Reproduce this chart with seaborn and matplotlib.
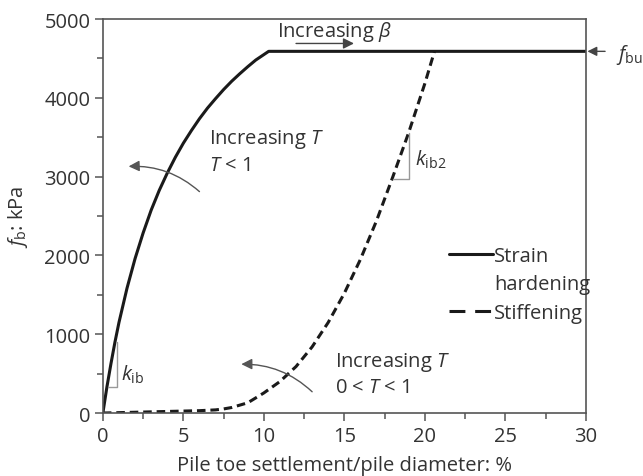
import numpy as np
import pandas as pd
import matplotlib
matplotlib.use('Agg')
import matplotlib.pyplot as plt
import seaborn as sns
from matplotlib.lines import Line2D
from matplotlib.ticker import MultipleLocator

# ---- data ----
hard_x = [0, 0.25, 0.5, 0.75, 1, 1.5, 2, 2.5, 3, 3.5, 4, 4.5, 5, 5.5, 6, 6.5, 7, 7.5, 8, 8.5, 9, 9.5, 10.3, 30]
hard_y = [0, 330, 625, 900, 1150, 1585, 1960, 2285, 2575, 2825, 3045, 3245, 3425, 3585, 3735, 3870, 3990,
          4105, 4210, 4305, 4395, 4480, 4590, 4590]
stiff_x = [0, 1, 2, 3, 4, 5, 6, 7, 7.5, 8, 9, 10, 11, 12, 13, 14, 15, 16, 17, 18, 19, 20, 20.6]
stiff_y = [0, 5, 10, 15, 20, 25, 30, 40, 52, 70, 130, 255, 400, 590, 840, 1150, 1520, 1950, 2440, 2990,
           3560, 4180, 4590]
x_ticks = [0, 5, 10, 15, 20, 25, 30]
y_ticks = [0, 1000, 2000, 3000, 4000, 5000]
series_labels = ["Strain", "hardening", "Stiffening"]

sns.set_theme(style="ticks")
plt.rcParams['font.family'] = ['Open Sans', 'DejaVu Sans']
plt.rcParams['mathtext.fontset'] = 'custom'
plt.rcParams['mathtext.rm'] = 'Open Sans'
plt.rcParams['mathtext.it'] = 'Open Sans:italic'
plt.rcParams['mathtext.bf'] = 'Open Sans:bold'

TXT = '#333333'
AX = '#555555'
FS = 14.5

fig = plt.figure(figsize=(6.43, 4.77), dpi=100)
ax = fig.add_axes([0.160, 0.132, 0.751, 0.826])

df_h = pd.DataFrame({'x': hard_x, 'y': hard_y})
df_s = pd.DataFrame({'x': stiff_x, 'y': stiff_y})
sns.lineplot(data=df_h, x='x', y='y', ax=ax, color='#1a1a1a', lw=2.2, estimator=None)
sns.lineplot(data=df_s, x='x', y='y', ax=ax, color='#1a1a1a', lw=2.2, estimator=None,
             linestyle=(0, (2.8, 1.6)))

ax.set_xlim(0, 30)
ax.set_ylim(0, 5000)
ax.set_xticks(x_ticks)
ax.set_yticks(y_ticks)
ax.xaxis.set_minor_locator(MultipleLocator(2.5))
ax.yaxis.set_minor_locator(MultipleLocator(500))
ax.tick_params(which='major', direction='out', length=6, width=1.1, color=AX,
               labelsize=FS, labelcolor=TXT, pad=3)
ax.tick_params(which='minor', direction='out', length=4, width=1.1, color=AX)
for s in ax.spines.values():
    s.set_visible(True)
    s.set_color(AX)
    s.set_linewidth(1.2)

ax.set_xlabel("Pile toe settlement/pile diameter: %", fontsize=FS, color=TXT, labelpad=7)
ax.set_ylabel(r"$f_\mathrm{b}$: kPa", fontsize=FS, color=TXT, labelpad=10)

# legend
handles = [Line2D([], [], color='#1a1a1a', lw=2.2),
           Line2D([], [], color='none', lw=0),
           Line2D([], [], color='#1a1a1a', lw=2.2, linestyle=(0, (5.2, 3.2)))]
leg = ax.legend(handles, series_labels, loc='upper left', bbox_to_anchor=(0.70, 0.445),
                frameon=False, fontsize=FS, handlelength=2.2, handletextpad=0.05,
                labelspacing=0.42, borderaxespad=0)
for t in leg.get_texts():
    t.set_color(TXT)

# annotations
ax.text(10.8, 4850, r"Increasing $\beta$", fontsize=FS, color=TXT, va='center', ha='left')
ax.annotate("", xy=(15.6, 4690), xytext=(12.0, 4690),
            arrowprops=dict(arrowstyle='-|>', color='#444444', lw=1.0,
                            mutation_scale=16, shrinkA=0, shrinkB=0))

ax.annotate("", xy=(30.1, 4590), xytext=(31.2, 4590), annotation_clip=False,
            arrowprops=dict(arrowstyle='-|>', color='#444444', lw=1.0,
                            mutation_scale=14, shrinkA=0, shrinkB=0))
ax.text(31.9, 4560, r"$f_\mathrm{bu}$", fontsize=FS, color=TXT, va='center', ha='left',
        clip_on=False)

ax.text(6.6, 3480, r"Increasing $T$", fontsize=FS, color=TXT, va='center', ha='left')
ax.text(6.6, 3150, r"$T$ < 1", fontsize=FS, color=TXT, va='center', ha='left')
ax.annotate("", xy=(1.6, 3130), xytext=(6.0, 2810),
            arrowprops=dict(arrowstyle='-|>', color='#555555', lw=1.0, mutation_scale=16,
                            shrinkA=0, shrinkB=0, connectionstyle="arc3,rad=0.2"))

ax.text(14.4, 650, r"Increasing $T$", fontsize=FS, color=TXT, va='center', ha='left')
ax.text(14.4, 330, r"0 < $T$ < 1", fontsize=FS, color=TXT, va='center', ha='left')
ax.annotate("", xy=(8.6, 620), xytext=(13.0, 270),
            arrowprops=dict(arrowstyle='-|>', color='#555555', lw=1.0, mutation_scale=16,
                            shrinkA=0, shrinkB=0, connectionstyle="arc3,rad=0.2"))

# slope triangles
ax.plot([0.33, 0.85, 0.85], [333, 333, 900], color='#999999', lw=1.0)
ax.text(1.15, 500, r"$k_\mathrm{ib}$", fontsize=FS, color=TXT, va='center', ha='left')
ax.plot([18.0, 19.0, 19.0], [2970, 2970, 3553], color='#999999', lw=1.0)
ax.text(19.4, 3230, r"$k_\mathrm{ib2}$", fontsize=FS, color=TXT, va='center', ha='left')

fig.savefig("out.png", dpi=100)
